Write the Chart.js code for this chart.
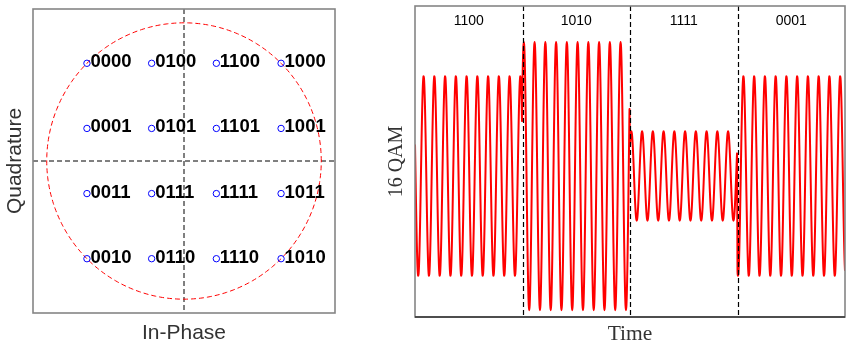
<!DOCTYPE html>
<html><head><meta charset="utf-8">
<script src="https://cdn.jsdelivr.net/npm/chart.js@4/dist/chart.umd.min.js"></script>
<style>
html,body{margin:0;padding:0;background:#fff;width:852px;height:347px;overflow:hidden}
#w1{position:absolute;left:0;top:0;width:340px;height:347px}
#w2{position:absolute;left:380px;top:0;width:472px;height:347px}
</style></head><body>
<div id="w1"><canvas id="c1"></canvas></div>
<div id="w2"><canvas id="c2"></canvas></div>
<script>
// ---- Constellation (left) ----
const symbolLabels = ['0000','0100','1100','1000','0001','0101','1101','1001','0011','0111','1111','1011','0010','0110','1110','1010'];
const inPhase    = [-3,-1, 1, 3, -3,-1, 1, 3, -3,-1, 1, 3, -3,-1, 1, 3];
const quadrature = [ 3, 3, 3, 3,  1, 1, 1, 1, -1,-1,-1,-1, -3,-3,-3,-3];
const constLimit = 4.667;

// ---- Transmitted symbols (right) ----
const sentSymbols = ['1100','1010','1111','0001'];
const sentI = [1, 3, 1, -3];
const sentQ = [3, -3, -1, 1];
const carrierCycles = 10;          // carrier cycles per symbol
const waveYRange = [-4.46, 5.38];

Chart.defaults.animation = false;
Chart.defaults.font.family = '"Liberation Sans", Arial, sans-serif';

// constellation points
const constPts = inPhase.map((v,i)=>({x:v, y:quadrature[i]}));
// circle through the outer points (radius = max |I+jQ|)
const rMax = Math.max(...inPhase.map((v,i)=>Math.hypot(v, quadrature[i])));
const circlePts = [];
for (let k=0;k<=360;k++){ const a=k*Math.PI/180; circlePts.push({x:rMax*Math.cos(a), y:rMax*Math.sin(a)}); }

const boxPlugin = {
  id:'box',
  afterDatasetsDraw(chart, args, opts){
    const {ctx, chartArea:a} = chart;
    ctx.save();
    ctx.strokeStyle = '#858585'; ctx.lineWidth = 1.6;
    ctx.strokeRect(a.left, a.top, a.right-a.left, a.bottom-a.top);
    if (opts && opts.bottomColor){
      ctx.strokeStyle = opts.bottomColor; ctx.beginPath();
      ctx.moveTo(a.left, a.bottom); ctx.lineTo(a.right, a.bottom); ctx.stroke();
    }
    ctx.restore();
  }
};

const constPlugin = {
  id:'constDecor',
  beforeDatasetsDraw(chart){
    const {ctx, chartArea:a, scales:{x,y}} = chart;
    ctx.save();
    ctx.strokeStyle='#000'; ctx.lineWidth=1; ctx.setLineDash([5,3]);
    const x0=x.getPixelForValue(0), y0=y.getPixelForValue(0);
    ctx.beginPath(); ctx.moveTo(x0,a.top); ctx.lineTo(x0,a.bottom); ctx.stroke();
    ctx.beginPath(); ctx.moveTo(a.left,y0); ctx.lineTo(a.right,y0); ctx.stroke();
    ctx.restore();
  },
  afterDatasetsDraw(chart){
    const {ctx, scales:{x,y}} = chart;
    ctx.save();
    ctx.fillStyle='#000'; ctx.font='bold 18.5px "Liberation Sans", Arial, sans-serif';
    ctx.textAlign='left'; ctx.textBaseline='alphabetic';
    symbolLabels.forEach((s,i)=>{
      ctx.fillText(s, x.getPixelForValue(inPhase[i])+3.5, y.getPixelForValue(quadrature[i])+4);
    });
    ctx.restore();
  }
};

new Chart(document.getElementById('c1'), {
  type:'scatter',
  data:{datasets:[
    {data:constPts, showLine:false, pointStyle:'circle', pointRadius:3.2, borderColor:'#0000ff', backgroundColor:'rgba(0,0,0,0)', borderWidth:1, pointHoverRadius:3.2},
    {data:circlePts, showLine:true, pointRadius:0, borderColor:'#ff0000', borderWidth:1, borderDash:[5,3], fill:false, tension:0}
  ]},
  options:{
    responsive:true, maintainAspectRatio:false,
    layout:{padding:{left:0, right:5, top:9, bottom:0}},
    plugins:{legend:{display:false}, tooltip:{enabled:false}},
    scales:{
      x:{type:'linear', min:-constLimit, max:constLimit,
         grid:{display:false, drawTicks:false}, border:{display:false}, ticks:{display:false},
         title:{display:true, text:'In-Phase', color:'#333', font:{size:21, family:'"Liberation Sans", Arial, sans-serif'}, padding:{top:7.3, bottom:1.5}}},
      y:{type:'linear', min:-constLimit, max:constLimit,
         grid:{display:false, drawTicks:false}, border:{display:false}, ticks:{display:false},
         title:{display:true, text:'Quadrature', color:'#333', font:{size:21, family:'"Liberation Sans", Arial, sans-serif'}, padding:{top:2.4, bottom:5.4}}}
    }
  },
  plugins:[constPlugin, boxPlugin]
});

// ---- waveform: QAM modulation of the sent I/Q symbols ----
const samplesPerSymbol = 240;
const wave = [];
for (let n=0; n<=sentSymbols.length*samplesPerSymbol; n++){
  const t = n/samplesPerSymbol;
  const k = Math.min(Math.floor(t), sentSymbols.length-1);
  const ph = 2*Math.PI*carrierCycles*t;
  wave.push({x:t, y: sentI[k]*Math.cos(ph) - sentQ[k]*Math.sin(ph)});
}

const wavePlugin = {
  id:'waveDecor',
  afterDatasetsDraw(chart){
    const {ctx, chartArea:a, scales:{x}} = chart;
    ctx.save();
    ctx.strokeStyle='#000'; ctx.lineWidth=1.2; ctx.setLineDash([5,3]);
    for (let k=1;k<sentSymbols.length;k++){
      const px = Math.round(x.getPixelForValue(k))+0.5;
      ctx.beginPath(); ctx.moveTo(px,a.top); ctx.lineTo(px,a.bottom); ctx.stroke();
    }
    ctx.setLineDash([]);
    ctx.fillStyle='#000'; ctx.font='14px "Liberation Sans", Arial, sans-serif';
    ctx.textAlign='center'; ctx.textBaseline='middle';
    sentSymbols.forEach((s,k)=>{ ctx.fillText(s, x.getPixelForValue(k+0.5), a.top+15.5); });
    ctx.restore();
  }
};

new Chart(document.getElementById('c2'), {
  type:'line',
  data:{datasets:[{data:wave, borderColor:'#ff0000', borderWidth:2, pointRadius:0, tension:0.25, fill:false, borderJoinStyle:'round'}]},
  options:{
    responsive:true, maintainAspectRatio:false, parsing:false,
    layout:{padding:{left:0, right:7, top:6, bottom:0}},
    plugins:{legend:{display:false}, tooltip:{enabled:false}},
    scales:{
      x:{type:'linear', min:0, max:sentSymbols.length,
         grid:{display:false, drawTicks:false}, border:{display:false}, ticks:{display:false},
         title:{display:true, text:'Time', color:'#333', font:{size:21.5, family:'"Liberation Serif", "Times New Roman", serif'}, padding:{top:4.2, bottom:0}}},
      y:{type:'linear', min:waveYRange[0], max:waveYRange[1],
         grid:{display:false, drawTicks:false}, border:{display:false}, ticks:{display:false},
         title:{display:true, text:'16 QAM', color:'#333', font:{size:20, family:'"Liberation Serif", "Times New Roman", serif'}, padding:{top:5, bottom:6}}}
    }
  },
  plugins:[wavePlugin, {id:'box2', afterDatasetsDraw:(c,a,o)=>boxPlugin.afterDatasetsDraw(c,a,{bottomColor:'#333'})}]
});
</script>
</body></html>
